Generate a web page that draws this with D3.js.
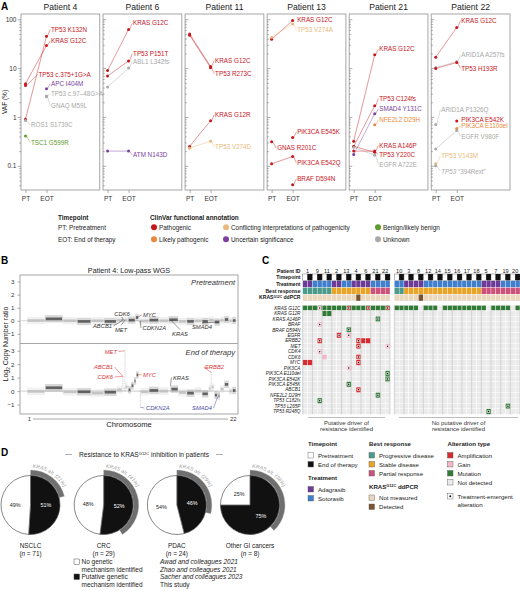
<!DOCTYPE html>
<html>
<head>
<meta charset="utf-8">
<script src="https://cdn.jsdelivr.net/npm/d3@7"></script>
<style>
  body { margin: 0; background: #fff; }
  svg { font-family: "Liberation Sans", Arial, sans-serif; }
</style>
</head>
<body>
<svg id="fig" width="520" height="597"></svg>
<script>
// ---------- A: VAF per patient ----------
var patientsA = ["4", "6", "11", "13", "21", "22"];
var clinvarClasses = ["P", "LP", "C", "U", "B", "N"];
var clinvarNames = ["Pathogenic", "Likely pathogenic", "Conflicting interpretations of pathogenicity",
  "Uncertain significance", "Benign/likely benign", "Unknown"];

// variant, ClinVar class, VAF at PT, VAF at EOT (null = not detected)
var vafP4 = [
  ["TP53 K132N", "P", 0.9, 45], ["KRAS G12C", "P", 4.8, 29], ["TP53 c.375+1G>A", "P", 4.4, null],
  ["APC I404M", "U", null, 3.8], ["TP53 c.97\u201348G>A", "N", null, 2.7], ["GNAQ M59L", "N", null, 2.6],
  ["ROS1 S1739C", "N", 0.85, null], ["TSC1 G599R", "B", 0.41, null]];
var vafP6 = [
  ["KRAS G12C", "P", 8.9, 62], ["TP53 P151T", "P", 6.9, 14], ["ABL1 L342fs", "N", 4.1, 10],
  ["ATM N143D", "U", 0.2, 0.2]];
var vafP11 = [
  ["KRAS G12C", "P", 50, 10.8], ["TP53 R273C", "P", 47, 10.2], ["KRAS G12R", "P", 0.25, 0.84],
  ["TP53 V274D", "C", 0.23, 0.32]];
var vafP13 = [
  ["KRAS G12C", "P", 39, 94], ["TP53 V274A", "C", 43, 80], ["PIK3CA E545K", "P", null, 0.38],
  ["GNAS R201C", "P", 0.31, null], ["PIK3CA E542Q", "P", 0.11, 0.155], ["BRAF D594N", "P", null, 0.041]];
var vafP21 = [
  ["KRAS G12C", "P", 0.32, 18.7], ["TP53 C124fs", "P", 0.25, 1.7], ["SMAD4 Y131C", "U", 0.17, 1.17],
  ["NFE2L2 D29H", "LP", null, 0.69], ["KRAS A146P", "P", 0.2, 0.2], ["TP53 Y220C", "P", 0.25, 0.19],
  ["EGFR A722E", "N", 0.24, 0.165]];
var vafP22 = [
  ["KRAS G12C", "P", 16.7, 68], ["ARID1A A257fs", "N", 10.3, 13.5], ["TP53 H193R", "P", 9.8, 13],
  ["ARID1A P1326Q", "N", 0.7, null], ["PIK3CA E542K", "P", null, 0.83], ["PIK3CA E110del", "LP", null, 0.58],
  ["EGFR V980F", "N", 0.22, 0.53], ["TP53 V143M", "C", 0.11, null], ["TP53 *394Rext*", "N", 0.1, null]];
// VAF level at which each label sits
var labP4 = [62, 36, 7.4, 4.8, 3.0, 1.7, 0.68, 0.3];
var labP6 = [83, 20, 13.6, 0.166];
var labP11 = [14.3, 7.66, 1.11, 0.24];
var labP13 = [97, 60, 0.49, 0.23, 0.115, 0.054];
var labP21 = [24.5, 2.4, 1.46, 0.87, 0.26, 0.168, 0.107];
var labP22 = [94, 18.4, 9.8, 1.41, 0.88, 0.66, 0.4, 0.16, 0.077];
var vafData = [vafP4, vafP6, vafP11, vafP13, vafP21, vafP22];
var labData = [labP4, labP6, labP11, labP13, labP21, labP22];

// ---------- B: copy number ----------
var chromSizes = [249, 243, 198, 191, 181, 171, 159, 146, 141, 136, 135, 133, 115, 107, 103, 90, 81, 78, 59, 63, 48, 51];
// chromosome, start Mb, end Mb, log2 ratio
var cnPre = [
  [1, 0, 249, 0.02], [2, 0, 243, 0.15], [3, 0, 198, 0.0], [4, 0, 191, -0.05], [5, 0, 181, 0.0],
  [6, 0, 171, -0.05], [7, 0, 159, 0.05], [8, 0, 100, 0.05], [8, 100, 146, 0.25], [9, 0, 141, -0.02],
  [10, 0, 136, 0.05], [11, 0, 135, 0.0], [12, 0, 133, 0.08], [13, 0, 115, -0.05], [14, 0, 107, -0.05],
  [15, 0, 103, 0.0], [16, 0, 90, -0.05], [17, 0, 81, 0.05], [18, 0, 78, -0.1], [19, 0, 59, 0.05],
  [20, 0, 63, 0.1], [21, 0, 48, 0.0], [22, 0, 51, 0.02]];
var cnEot = [
  [1, 0, 249, -0.02], [2, 0, 243, 0.25], [3, 0, 198, -0.05], [4, 0, 191, -0.05], [5, 0, 181, -0.15],
  [6, 0, 171, -0.08], [7, 0, 80, 0.1], [7, 80, 95, 1.1], [7, 95, 114, 0.3], [7, 114, 118, 3.0], [7, 118, 159, 0.3],
  [8, 0, 40, 0.1], [8, 40, 80, 0.4], [8, 80, 110, 0.75], [8, 110, 146, 1.2],
  [9, 0, 20, -0.1], [9, 20, 23, -1.2], [9, 23, 141, -0.05], [10, 0, 136, 0.05], [11, 0, 135, 0.0],
  [12, 0, 20, 0.15], [12, 20, 30, 0.4], [12, 30, 133, 0.15], [13, 0, 115, -0.1], [14, 0, 107, -0.15],
  [15, 0, 103, 0.0], [16, 0, 90, -0.2], [17, 0, 35, 0.2], [17, 35, 40, 1.4], [17, 40, 81, 0.3],
  [18, 0, 45, -0.3], [18, 45, 50, -0.4], [18, 50, 78, -0.35], [19, 0, 59, 0.15], [20, 0, 63, 0.5],
  [21, 0, 48, 0.0], [22, 0, 51, 0.05]];
// gene, chromosome, position Mb, log2 at that position (pre / eot), call at EOT
var cnGenes = [
  ["CDK6", 7, 92, 0.05, 1.1, "amp"], ["MYC", 8, 128, 0.25, 1.2, "amp"], ["ABCB1", 7, 87, 0.05, 1.1, "amp"],
  ["MET", 7, 116, 0.05, 3.0, "amp"], ["CDKN2A", 9, 21, -0.02, -1.2, "del"], ["KRAS", 12, 25, 0.08, 0.4, "none"],
  ["SMAD4", 18, 48, -0.1, -0.4, "del"], ["ERBB2", 17, 37, 0.05, 1.4, "amp"]];

// ---------- C: oncoprint ----------
var group1 = ["1", "9", "11", "2", "13", "4", "6", "21", "22"];
var group2 = ["10", "3", "8", "12", "14", "15", "16", "17", "18", "5", "7", "19", "20"];
var timepoints = ["PT", "EOT"];
var treatment = {"1": "A", "9": "S", "11": "S", "2": "A", "13": "S", "4": "A", "6": "A", "21": "S", "22": "S",
  "10": "S", "3": "A", "8": "A", "12": "S", "14": "S", "15": "S", "16": "S", "17": "S", "18": "S",
  "5": "A", "7": "A", "19": "S", "20": "S"};
var response = {"1": "PD", "9": "PD", "11": "PD", "2": "SD", "13": "SD", "4": "SD", "6": "SD", "21": "PR", "22": "PR",
  "10": "PD", "3": "SD", "8": "SD", "12": "SD", "14": "SD", "15": "SD", "16": "SD", "17": "SD", "18": "SD",
  "5": "PR", "7": "PR", "19": "PR", "20": "PR"};
var ddpcrDetected = [["4", "EOT"], ["8", "EOT"]];
var altRows = ["KRAS G12C", "KRAS G12R", "KRAS A146P", "BRAF", "BRAF D594N", "EGFR", "ERBB2", "MET", "CDK4",
  "CDK6", "MYC", "PIK3CA", "PIK3CA E110del", "PIK3CA E542K", "PIK3CA E545K", "ABCB1", "NFE2L2 D29H",
  "TP53 C182fs", "TP53 L265P", "TP53 R248Q"];
var krasG12CAbsent = [["8", "EOT"], ["14", "EOT"], ["5", "EOT"], ["20", "PT"]];
var krasOverlay = [["9", "EOT", "gain"], ["13", "EOT", "amp"], ["6", "EOT", "amp"], ["22", "EOT", "amp"]];
// gene row, patient, timepoint, type, treatment-emergent
var alterations = [
  ["KRAS G12R", "11", "PT", "mut", 0], ["KRAS G12R", "11", "EOT", "mut", 0],
  ["KRAS A146P", "21", "EOT", "mut", 1], ["BRAF", "9", "EOT", "gain", 1], ["BRAF D594N", "13", "EOT", "mut", 1],
  ["EGFR", "2", "EOT", "amp", 1], ["EGFR", "13", "EOT", "gain", 1],
  ["ERBB2", "9", "EOT", "amp", 1], ["ERBB2", "4", "EOT", "amp", 1], ["ERBB2", "6", "PT", "amp", 0], ["ERBB2", "6", "EOT", "amp", 0],
  ["MET", "4", "EOT", "amp", 1], ["MET", "22", "EOT", "gain", 1], ["CDK4", "9", "EOT", "gain", 1],
  ["CDK6", "11", "PT", "gain", 0], ["CDK6", "4", "EOT", "amp", 1],
  ["MYC", "1", "PT", "amp", 0], ["MYC", "1", "EOT", "amp", 0], ["MYC", "4", "EOT", "amp", 1],
  ["PIK3CA", "13", "EOT", "gain", 1], ["PIK3CA E110del", "22", "EOT", "mut", 1],
  ["PIK3CA E542K", "22", "EOT", "mut", 1], ["PIK3CA E545K", "13", "EOT", "mut", 1],
  ["ABCB1", "4", "EOT", "amp", 1], ["NFE2L2 D29H", "21", "EOT", "mut", 1], ["TP53 C182fs", "9", "EOT", "mut", 1],
  ["TP53 L265P", "19", "EOT", "mut", 1], ["TP53 R248Q", "5", "EOT", "mut", 1]];

// ---------- D: pies ----------
var cohorts = ["NSCLC", "CRC", "PDAC", "Other GI cancers"];
var cohortN = [71, 29, 24, 8];
var putativePct = [51, 52, 46, 75];
var krasAltPct = [21, 41, 29, 38];
var studies = ["Awad and colleagues 2021", "Zhao and colleagues 2021", "Sacher and colleagues 2023", "This study"];

// ================= drawing =================
var svg = d3.select("#fig");
var clsColor = {P: "#c6161d", LP: "#e8893b", C: "#e8b97b", U: "#7c3f9d", B: "#5e9a2f", N: "#a9a9a9"};

function letter(t, x, y) {
  svg.append("text").attr("x", x).attr("y", y).attr("font-size", 10).attr("font-weight", "bold").text(t);
}
function styleAxis(g, fs) {
  g.attr("font-size", null).attr("font-family", null);
  g.select(".domain").remove();
  g.selectAll("line").attr("stroke", "#777").attr("stroke-width", 0.6);
  g.selectAll("text").attr("font-size", fs).attr("fill", "#333");
}

// ---------- panel A ----------
letter("A", 1, 10);
var ya = d3.scaleLog().domain([0.032, 128]).range([190, 14]);
var xa = d3.scaleBand().domain(patientsA).range([21, 510]).paddingInner(0.04);
var xt = d3.scalePoint().domain(timepoints).range([4.5, 25.5]);
var isMajor = function(v) { var l = Math.log10(v); return Math.abs(l - Math.round(l)) < 1e-6; };
var majorT = ya.ticks().filter(isMajor);
var minorT = ya.ticks().filter(function(v) { return !isMajor(v); });

patientsA.forEach(function(p, i) {
  var g = svg.append("g").attr("transform", "translate(" + xa(p) + ",0)");
  var bw = xa.bandwidth();
  g.append("text").attr("x", bw / 2).attr("y", 10).attr("text-anchor", "middle")
    .attr("font-size", 8.6).attr("fill", "#222").text("Patient " + p);
  g.append("rect").attr("x", 0).attr("y", 14).attr("width", bw).attr("height", 176)
    .attr("fill", "none").attr("stroke", "#9c9c9c").attr("stroke-width", 0.9);
  var mk = i === 0 ? d3.axisLeft : d3.axisRight;
  var a1 = g.append("g").call(mk(ya).tickValues(majorT).tickSize(3.2)
    .tickFormat(i === 0 ? d3.format("~g") : ""));
  var a2 = g.append("g").call(mk(ya).tickValues(minorT).tickSize(1.7).tickFormat(""));
  styleAxis(a1, 6.5); styleAxis(a2, 6.5);
  if (i === 0) a1.selectAll("text").attr("x", -4.5);
  var ax = g.append("g").attr("transform", "translate(0,190)").call(d3.axisBottom(xt).tickSize(3));
  styleAxis(ax, 6.5);
  ax.selectAll("text").attr("y", 6);

  var rows = vafData[i], labs = labData[i];
  rows.forEach(function(d, j) {
    var col = clsColor[d[1]];
    if (d[2] != null && d[3] != null) {
      g.append("line").attr("x1", xt("PT")).attr("y1", ya(d[2])).attr("x2", xt("EOT")).attr("y2", ya(d[3]))
        .attr("stroke", col).attr("stroke-width", 0.8).attr("opacity", 0.55);
    }
  });
  rows.forEach(function(d, j) {
    var col = clsColor[d[1]];
    timepoints.forEach(function(tp, k) {
      var v = d[2 + k];
      if (v == null) return;
      g.append("circle").attr("cx", xt(tp)).attr("cy", ya(v)).attr("r", 1.5).attr("fill", col);
    });
    var fromEot = d[3] != null;
    var px = fromEot ? xt("EOT") : xt("PT");
    var py = ya(fromEot ? d[3] : d[2]);
    var lx = px + (fromEot ? 4.5 : 5.5);
    if (d[0] === "TP53 c.375+1G>A") lx = px + 13;
    var ly = ya(labs[j]);
    if (Math.abs(ly - py) > 2 || lx - px > 6) {
      g.append("line").attr("x1", px + 1).attr("y1", py).attr("x2", lx - 0.8).attr("y2", ly)
        .attr("stroke", col).attr("stroke-width", 0.5).attr("opacity", 0.8);
    }
    var t = g.append("text").attr("x", lx).attr("y", ly + 2.2).attr("font-size", 6.3).attr("fill", col);
    if (d[0].indexOf("*394") >= 0) {
      t.append("tspan").attr("font-style", "italic").text("TP53");
      t.append("tspan").text(" \u201C394Rext\u201D");
    } else t.text(d[0]);
  });
});
svg.append("text").attr("transform", "translate(7,102) rotate(-90)").attr("text-anchor", "middle")
  .attr("font-size", 6.5).attr("fill", "#222").text("VAF (%)");

// legend A
var lgA = svg.append("g").attr("font-size", 6.4).attr("fill", "#222");
lgA.append("text").attr("x", 58).attr("y", 219.5).attr("font-weight", "bold").text("Timepoint");
lgA.append("text").attr("x", 58).attr("y", 229.5).text("PT: Pretreatment");
lgA.append("text").attr("x", 58).attr("y", 241.5).text("EOT: End of therapy");
lgA.append("text").attr("x", 150).attr("y", 219.5).attr("font-weight", "bold").text("ClinVar functional annotation");
var lgCols = [154, 226, 378];
clinvarClasses.forEach(function(c, i) {
  var cx = lgCols[Math.floor(i / 2)], cy = 227.3 + (i % 2) * 12;
  lgA.append("circle").attr("cx", cx).attr("cy", cy).attr("r", 3).attr("fill", clsColor[c]);
  lgA.append("text").attr("x", cx + 5).attr("y", cy + 2.3).text(clinvarNames[i]);
});

// ---------- panel B ----------
letter("B", 1, 264);
var chromStart = [0];
chromSizes.forEach(function(s, i) { chromStart.push(chromStart[i] + s); });
var genomeLen = chromStart[chromSizes.length];
var xg = d3.scaleLinear().domain([0, genomeLen]).range([27, 236]);
var yb1 = d3.scaleLinear().domain([-1.7, 3.5]).range([343, 275]);
var yb2 = d3.scaleLinear().domain([-1.7, 3.5]).range([414, 344]);
svg.append("text").attr("x", 129).attr("y", 272.5).attr("text-anchor", "middle").attr("font-size", 7.2)
  .attr("fill", "#222").text("Patient 4: Low-pass WGS");
svg.append("rect").attr("x", 20).attr("y", 275).attr("width", 218).attr("height", 139)
  .attr("fill", "none").attr("stroke", "#9c9c9c").attr("stroke-width", 0.9);
svg.append("line").attr("x1", 20).attr("x2", 238).attr("y1", 343.5).attr("y2", 343.5)
  .attr("stroke", "#9c9c9c").attr("stroke-width", 0.9);

function cnPanel(segs, yb) {
  var g = svg.append("g");
  g.append("line").attr("x1", 21).attr("x2", 237).attr("y1", yb(0)).attr("y2", yb(0))
    .attr("stroke", "#d6d6d6").attr("stroke-width", 1.2);
  segs.forEach(function(s) {
    var x0 = xg(chromStart[s[0] - 1] + s[1]), x1 = xg(chromStart[s[0] - 1] + s[2]);
    var dark = s[0] % 2 === 0;
    var col = dark ? "#4d4d4d" : "#bdbdbd";
    if (x1 - x0 < 2) {
      g.append("line").attr("x1", (x0 + x1) / 2).attr("x2", (x0 + x1) / 2).attr("y1", yb(0)).attr("y2", yb(s[3]))
        .attr("stroke", "#c4c4c4").attr("stroke-width", 0.8).attr("stroke-dasharray", "1,0.8");
      return;
    }
    g.append("rect").attr("x", x0).attr("width", x1 - x0).attr("y", yb(s[3] + 0.28)).attr("height", yb(-0.28) - yb(0.28))
      .attr("fill", col).attr("opacity", 0.22);
    g.append("rect").attr("x", x0 + 0.6).attr("width", Math.max(0.5, x1 - x0 - 1.2)).attr("y", yb(s[3] + 0.1))
      .attr("height", yb(-0.1) - yb(0.1)).attr("fill", col).attr("opacity", 0.85);
  });
  var ax = g.append("g").attr("transform", "translate(20,0)")
    .call(d3.axisLeft(yb).tickValues([-1, 0, 1, 2, 3]).tickSize(2.5).tickFormat(d3.format("d")));
  styleAxis(ax, 6.2);
  return g;
}
cnPanel(cnPre, yb1);
cnPanel(cnEot, yb2);
svg.append("text").attr("x", 235).attr("y", 284.5).attr("text-anchor", "end").attr("font-size", 7.6)
  .attr("font-style", "italic").attr("fill", "#333").text("Pretreatment");
svg.append("text").attr("x", 235).attr("y", 354.5).attr("text-anchor", "end").attr("font-size", 7.6)
  .attr("font-style", "italic").attr("fill", "#333").text("End of therapy");

// label placement for gene annotations: [x, baseline, anchor]
var preLab = {CDK6: [122, 316, "middle"], MYC: [143, 317, "start"], ABCB1: [112, 328, "end"],
  MET: [121, 331.5, "middle"], CDKN2A: [142.5, 330, "start"], KRAS: [180, 335.5, "middle"], SMAD4: [202, 329, "middle"]};
var eotLab = {MET: [117, 353.5, "end"], ABCB1: [113, 369, "end"], CDK6: [113, 379, "end"], MYC: [143, 376.5, "start"],
  KRAS: [173, 379.5, "start"], ERBB2: [205, 369, "start"], CDKN2A: [146, 410, "start"], SMAD4: [212, 410, "end"]};
var callColor = {amp: "#d8393b", del: "#4a4aa3", none: "#333"};
function geneLabels(lab, yb, vIdx, colored) {
  cnGenes.forEach(function(d) {
    var L = lab[d[0]];
    if (!L) return;
    var gx = xg(chromStart[d[1] - 1] + d[2]), gy = yb(d[vIdx]);
    var col = colored ? callColor[d[5]] : "#333";
    var ex = L[2] === "end" ? L[0] + 1.5 : (L[2] === "start" ? L[0] - 1.5 : L[0]);
    var ey = L[2] === "middle" ? (gy < L[1] ? L[1] - 6 : L[1] + 1) : L[1] - 2;
    svg.append("line").attr("x1", ex).attr("y1", ey).attr("x2", gx).attr("y2", gy)
      .attr("stroke", col).attr("stroke-width", 0.5);
    svg.append("text").attr("x", L[0]).attr("y", L[1]).attr("text-anchor", L[2]).attr("font-size", 5.8)
      .attr("font-style", "italic").attr("fill", col).text(d[0]);
  });
}
geneLabels(preLab, yb1, 3, false);
geneLabels(eotLab, yb2, 4, true);
svg.append("text").attr("transform", "translate(8,344) rotate(-90)").attr("text-anchor", "middle")
  .attr("font-size", 7).attr("fill", "#222")
  .call(function(t) {
    t.append("tspan").text("Log");
    t.append("tspan").attr("font-size", 4.6).attr("dy", 1.8).text("2");
    t.append("tspan").attr("dy", -1.8).text(" Copy Number ratio");
  });
svg.append("line").attr("x1", xg(0) + 6).attr("x2", xg(genomeLen) - 8).attr("y1", 419).attr("y2", 419)
  .attr("stroke", "#aaa").attr("stroke-width", 1.2);
svg.append("text").attr("x", xg(0) + 4).attr("y", 421).attr("text-anchor", "end").attr("font-size", 6).attr("fill", "#333").text("1");
svg.append("text").attr("x", xg(genomeLen) - 6).attr("y", 421).attr("font-size", 6).attr("fill", "#333").text("22");
svg.append("text").attr("x", 129).attr("y", 427).attr("text-anchor", "middle").attr("font-size", 7.6)
  .attr("fill", "#222").text("Chromosome");

// ---------- panel C ----------
letter("C", 262, 264);
var xc1 = d3.scaleBand().domain(group1).range([302.7, 390]);
var xc2 = d3.scaleBand().domain(group2).range([394.3, 520]);
function xc(p) { return group1.indexOf(p) >= 0 ? xc1(p) : xc2(p); }
function bwc(p) { return group1.indexOf(p) >= 0 ? xc1.bandwidth() : xc2.bandwidth(); }
var headRows = ["Timepoint", "Treatment", "Best response", "ddPCR"];
var yh = d3.scaleBand().domain(headRows).range([274, 301]);
var yr = d3.scaleBand().domain(altRows).range([305.3, 414.3]);
var treatColor = {A: "#6d3a98", S: "#3f7fce"};
var respColor = {PD: "#4b9a8a", SD: "#e8a426", PR: "#cc527c"};
var ddColor = {no: "#e9d8bf", yes: "#7a5430"};
var altColor = {amp: "#d62a30", gain: "#f2b8c8", mut: "#2f7a34", none: "#ebebeb"};
var allPatients = group1.concat(group2);
var gC = svg.append("g");

function has(list, p, tp) { return list.some(function(e) { return e[0] === p && e[1] === tp; }); }

allPatients.forEach(function(p) {
  var cw = bwc(p) / 2;
  gC.append("text").attr("x", xc(p) + cw).attr("y", 273).attr("text-anchor", "middle")
    .attr("font-size", 5.6).attr("fill", "#222").text(p);
  timepoints.forEach(function(tp, k) {
    var x = xc(p) + k * cw;
    gC.append("rect").attr("x", x).attr("y", yh("Timepoint")).attr("width", cw).attr("height", yh.bandwidth())
      .attr("fill", tp === "PT" ? "#fff" : "#111").attr("stroke", "#333").attr("stroke-width", 0.35);
    gC.append("rect").attr("x", x).attr("y", yh("Treatment")).attr("width", cw).attr("height", yh.bandwidth())
      .attr("fill", treatColor[treatment[p]]).attr("stroke", "#fff").attr("stroke-width", 0.3);
    gC.append("rect").attr("x", x).attr("y", yh("Best response")).attr("width", cw).attr("height", yh.bandwidth())
      .attr("fill", respColor[response[p]]).attr("stroke", "#fff").attr("stroke-width", 0.3);
    gC.append("rect").attr("x", x).attr("y", yh("ddPCR")).attr("width", cw).attr("height", yh.bandwidth())
      .attr("fill", has(ddpcrDetected, p, tp) ? ddColor.yes : ddColor.no).attr("stroke", "#fff").attr("stroke-width", 0.3);
    altRows.forEach(function(r) {
      var type = "none";
      if (r === "KRAS G12C" && !has(krasG12CAbsent, p, tp)) type = "mut";
      gC.append("rect").attr("x", x).attr("y", yr(r)).attr("width", cw).attr("height", yr.bandwidth())
        .attr("fill", altColor[type]).attr("stroke", "#fff").attr("stroke-width", 0.4);
    });
  });
});
function emergentMark(cx, cy) {
  gC.append("rect").attr("x", cx - 1.3).attr("y", cy - 1.3).attr("width", 2.6).attr("height", 2.6)
    .attr("fill", "#fff").attr("opacity", 0.85);
  gC.append("circle").attr("cx", cx).attr("cy", cy).attr("r", 0.75).attr("fill", "#111");
}
alterations.forEach(function(a) {
  var cw = bwc(a[1]) / 2;
  var x = xc(a[1]) + timepoints.indexOf(a[2]) * cw, y = yr(a[0]);
  gC.append("rect").attr("x", x).attr("y", y).attr("width", cw).attr("height", yr.bandwidth())
    .attr("fill", altColor[a[3]]).attr("stroke", "#fff").attr("stroke-width", 0.4);
  if (a[4]) emergentMark(x + cw / 2, y + yr.bandwidth() / 2);
});
krasOverlay.forEach(function(a) {
  var cw = bwc(a[0]) / 2;
  var x = xc(a[0]) + timepoints.indexOf(a[1]) * cw, y = yr("KRAS G12C");
  gC.append("rect").attr("x", x + 0.7).attr("y", y + 0.7).attr("width", cw - 1.4).attr("height", yr.bandwidth() - 1.4)
    .attr("fill", altColor[a[2]]);
  emergentMark(x + cw / 2, y + yr.bandwidth() / 2);
});
// patient separators in grid
allPatients.forEach(function(p) {
  gC.append("line").attr("x1", xc(p)).attr("x2", xc(p)).attr("y1", yr.range()[0]).attr("y2", yr.range()[1])
    .attr("stroke", "#a8a8a8").attr("stroke-width", 0.5);
});
[xc1, xc2].forEach(function(sc) {
  var r = sc.range();
  gC.append("line").attr("x1", r[1]).attr("x2", r[1]).attr("y1", yr.range()[0]).attr("y2", yr.range()[1])
    .attr("stroke", "#a8a8a8").attr("stroke-width", 0.5);
});
// row labels
var hl = gC.append("g").attr("font-size", 5.1).attr("font-weight", "bold").attr("text-anchor", "end").attr("fill", "#111");
hl.append("text").attr("x", 300.5).attr("y", 273).text("Patient ID");
["Timepoint", "Treatment", "Best response"].forEach(function(r) {
  hl.append("text").attr("x", 300.5).attr("y", yh(r) + yh.bandwidth() / 2 + 1.8).text(r);
});
hl.append("text").attr("x", 300.5).attr("y", yh("ddPCR") + yh.bandwidth() / 2 + 1.8)
  .call(function(t) {
    t.append("tspan").text("KRAS");
    t.append("tspan").attr("font-size", 3.3).attr("dy", -1.8).text("G12C");
    t.append("tspan").attr("dy", 1.8).text(" ddPCR");
  });
altRows.forEach(function(r) {
  gC.append("text").attr("x", 300.5).attr("y", yr(r) + yr.bandwidth() / 2 + 1.7).attr("text-anchor", "end")
    .attr("font-size", 4.7).attr("font-style", "italic").attr("fill", "#222").text(r);
});
// group brackets
[[308, 385, "Putative driver of"], [399, 518, "No putative driver of"]].forEach(function(b) {
  gC.append("line").attr("x1", b[0]).attr("x2", b[1]).attr("y1", 417.5).attr("y2", 417.5)
    .attr("stroke", "#bdbdbd").attr("stroke-width", 1.2);
  var cx = (b[0] + b[1]) / 2;
  gC.append("text").attr("x", cx).attr("y", 424.8).attr("text-anchor", "middle").attr("font-size", 6).attr("fill", "#333").text(b[2]);
  gC.append("text").attr("x", cx).attr("y", 431).attr("text-anchor", "middle").attr("font-size", 6).attr("fill", "#333").text("resistance identified");
});
// legend C
var lgC = svg.append("g").attr("font-size", 6.1).attr("fill", "#222");
function lgHead(x, y, t) { return lgC.append("text").attr("x", x).attr("y", y).attr("font-weight", "bold").text(t); }
function lgItem(x, y, fill, t) {
  lgC.append("rect").attr("x", x).attr("y", y - 5).attr("width", 5.5).attr("height", 5.5)
    .attr("fill", fill).attr("stroke", "#555").attr("stroke-width", 0.4);
  lgC.append("text").attr("x", x + 10).attr("y", y).text(t);
}
lgHead(308, 445.5, "Timepoint");
lgItem(308, 457.5, "#fff", "Pretreatment");
lgItem(308, 466.5, "#111", "End of therapy");
lgHead(308, 480, "Treatment");
lgItem(308, 491.5, treatColor.A, "Adagrasib");
lgItem(308, 500.5, treatColor.S, "Sotorasib");
lgHead(369, 445.5, "Best response");
lgItem(369, 457.5, respColor.PD, "Progressive disease");
lgItem(369, 466.5, respColor.SD, "Stable disease");
lgItem(369, 475.5, respColor.PR, "Partial response");
lgHead(369, 489, "KRAS").call(function(t) {
  t.append("tspan").attr("font-size", 3.8).attr("dy", -2).text("G12C");
  t.append("tspan").attr("dy", 2).text(" ddPCR");
});
lgItem(369, 500, ddColor.no, "Not measured");
lgItem(369, 509, ddColor.yes, "Detected");
lgHead(447.5, 445.5, "Alteration type");
lgItem(447.5, 457.5, altColor.amp, "Amplification");
lgItem(447.5, 466.5, altColor.gain, "Gain");
lgItem(447.5, 475.5, altColor.mut, "Mutation");
lgItem(447.5, 484.5, altColor.none, "Not detected");
lgItem(447.5, 498.5, "#fff", "Treatment-emergent");
lgC.append("circle").attr("cx", 450.25).attr("cy", 496.25).attr("r", 1).attr("fill", "#111");
lgC.append("text").attr("x", 457.5).attr("y", 507).text("alteration");

// ---------- panel D ----------
letter("D", 1, 456);
var tD = svg.append("text").attr("x", 144).attr("y", 456.8).attr("text-anchor", "middle").attr("font-size", 6.6).attr("fill", "#222");
tD.append("tspan").text("Resistance to KRAS");
tD.append("tspan").attr("font-size", 4).attr("dy", -2.2).text("G12C");
tD.append("tspan").attr("dy", 2.2).text(" inhibition in patients");
svg.append("line").attr("x1", 65).attr("x2", 72).attr("y1", 454.5).attr("y2", 454.5).attr("stroke", "#999").attr("stroke-width", 0.8);
svg.append("line").attr("x1", 216).attr("x2", 223).attr("y1", 454.5).attr("y2", 454.5).attr("stroke", "#999").attr("stroke-width", 0.8);

var xd = d3.scalePoint().domain(cohorts).range([30.5, 250]);
var R = 29.5, cyD = 505;
var pie = d3.pie().sort(null).value(function(d) { return d; });
var arc = d3.arc().innerRadius(0).outerRadius(R);
var labArc = d3.arc().innerRadius(0).outerRadius(R * 1.05);
cohorts.forEach(function(c, i) {
  var g = svg.append("g").attr("transform", "translate(" + xd(c) + "," + cyD + ")");
  var slices = pie([putativePct[i], 100 - putativePct[i]]);
  var ka = 2 * Math.PI * krasAltPct[i] / 100;
  g.append("path").attr("d", d3.arc().innerRadius(R + 0.3).outerRadius(R + 5.5).startAngle(0).endAngle(ka)())
    .attr("fill", "#6f6f6f").attr("stroke", "#b5b5b5").attr("stroke-width", 0.4);
  g.selectAll("path.sl").data(slices).enter().append("path").attr("class", "sl").attr("d", arc)
    .attr("fill", function(d, j) { return j === 0 ? "#111" : "#fff"; })
    .attr("stroke", "#555").attr("stroke-width", 0.7);
  g.selectAll("text.pct").data(slices).enter().append("text").attr("class", "pct")
    .attr("transform", function(d) { return "translate(" + labArc.centroid(d) + ")"; })
    .attr("dy", 2).attr("text-anchor", "middle").attr("font-size", 5.4)
    .attr("fill", function(d, j) { return j === 0 ? "#fff" : "#222"; })
    .text(function(d) { return d.value + "%"; });
  var Rt = R + 7.8, a0 = 0.03, a1 = 2.2;
  var pid = "karc" + i;
  g.append("path").attr("id", pid).attr("fill", "none")
    .attr("d", "M" + (Rt * Math.sin(a0)) + "," + (-Rt * Math.cos(a0)) + " A" + Rt + "," + Rt + " 0 0 1 " +
      (Rt * Math.sin(a1)) + "," + (-Rt * Math.cos(a1)));
  g.append("text").attr("font-size", 5.2).attr("font-style", "italic").attr("fill", "#a0a0a0")
    .append("textPath").attr("href", "#" + pid).attr("startOffset", 1).text("KRAS alt. (" + krasAltPct[i] + "%)");
  svg.append("text").attr("x", xd(c)).attr("y", 547.5).attr("text-anchor", "middle").attr("font-size", 6.4)
    .attr("fill", "#222").text(c);
  var nt = svg.append("text").attr("x", xd(c)).attr("y", 555.5).attr("text-anchor", "middle").attr("font-size", 6.4).attr("fill", "#222");
  nt.append("tspan").text("(");
  nt.append("tspan").attr("font-style", "italic").text("n");
  nt.append("tspan").text(" = " + cohortN[i] + ")");
});
// legend D
var lgD = svg.append("g").attr("font-size", 6.5).attr("fill", "#222");
lgD.append("rect").attr("x", 74).attr("y", 559).attr("width", 5.5).attr("height", 5.5).attr("fill", "#fff").attr("stroke", "#555").attr("stroke-width", 0.5);
lgD.append("text").attr("x", 81.5).attr("y", 564).text("No genetic");
lgD.append("text").attr("x", 81.5).attr("y", 571.5).text("mechanism identified");
lgD.append("rect").attr("x", 74).attr("y", 574).attr("width", 5.5).attr("height", 5.5).attr("fill", "#111").attr("stroke", "#555").attr("stroke-width", 0.5);
lgD.append("text").attr("x", 81.5).attr("y", 579).text("Putative genetic");
lgD.append("text").attr("x", 81.5).attr("y", 586.5).text("mechanism identified");
studies.forEach(function(s, i) {
  lgD.append("text").attr("x", 160).attr("y", 564 + i * 7.5).attr("font-style", i < 3 ? "italic" : "normal").text(s);
});
</script>
</body>
</html>
